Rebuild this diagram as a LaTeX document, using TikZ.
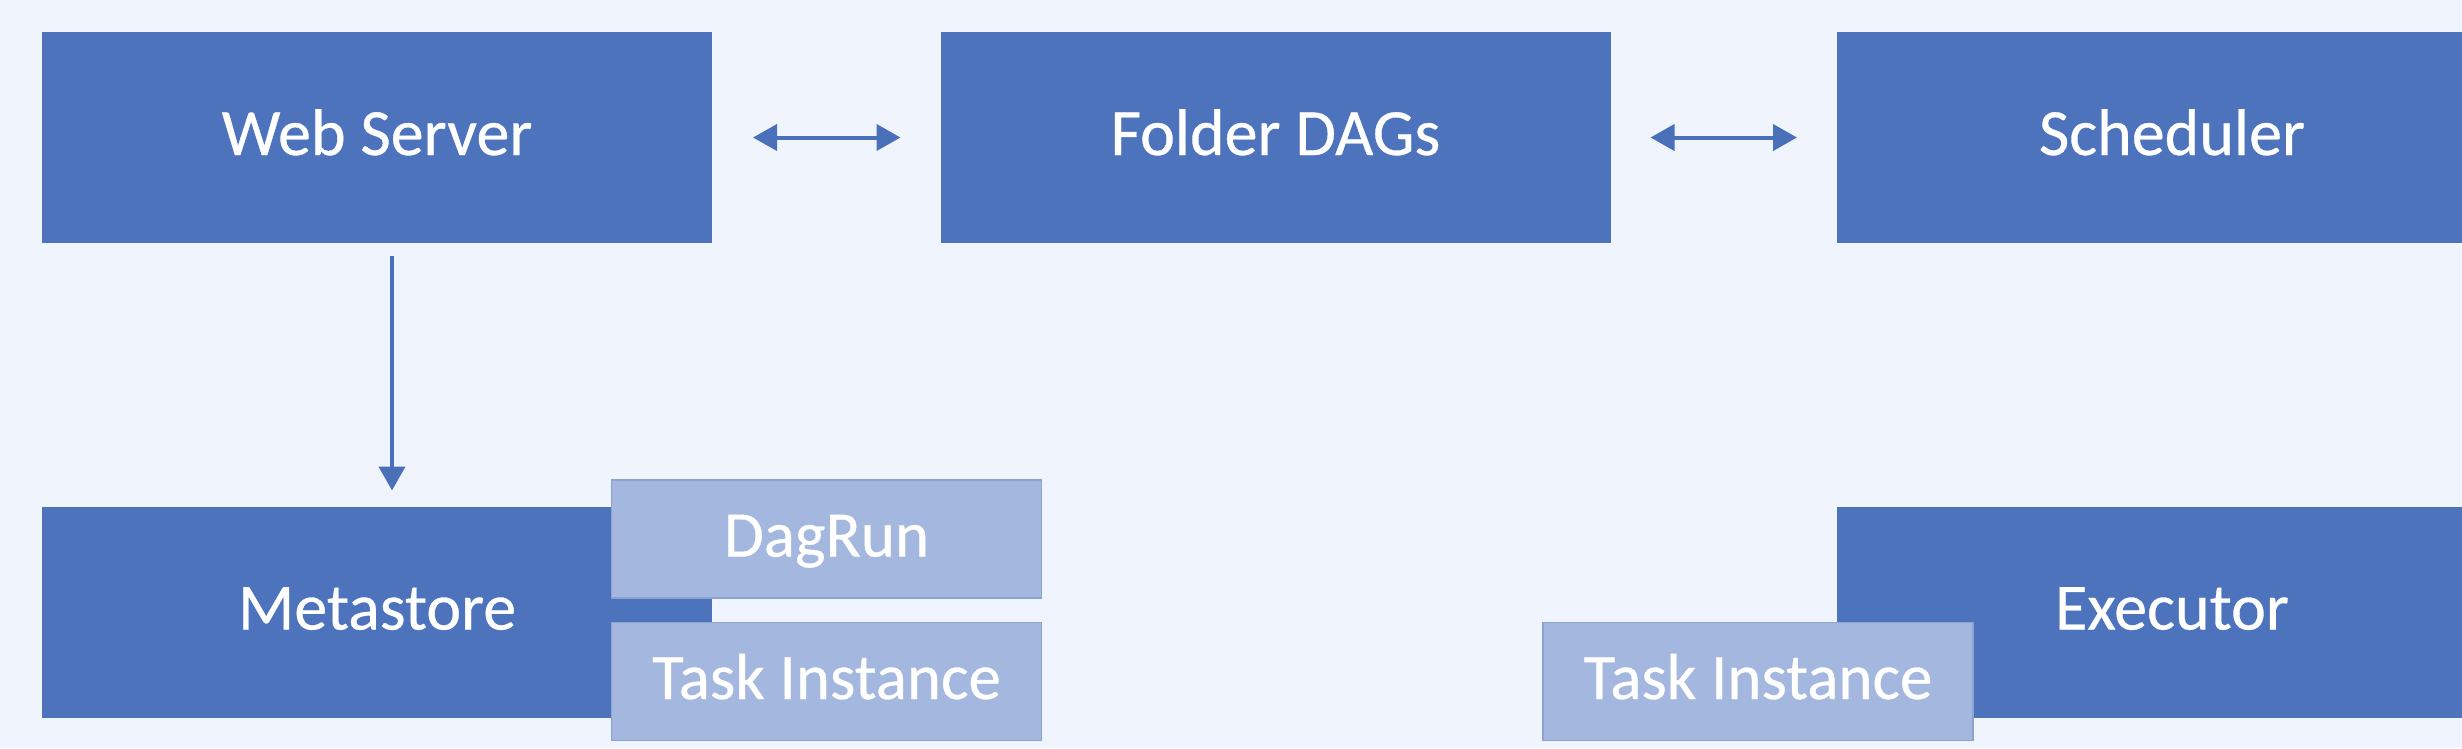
\documentclass[tikz,border=0pt]{standalone}
\usepackage{fontspec}
\setmainfont{Carlito}[FakeBold=0.5]
\usetikzlibrary{arrows.meta}
\definecolor{bgc}{RGB}{240,245,253}
\definecolor{darkbox}{RGB}{77,115,189}
\definecolor{lightbox}{RGB}{164,183,222}
\definecolor{lightedge}{RGB}{140,162,210}
\definecolor{arrowc}{RGB}{74,112,185}
\begin{document}
\begin{tikzpicture}[x=1pt,y=-1pt,
  darknode/.style={rectangle, fill=darkbox, text=white, inner sep=0pt, outer sep=0pt,
    minimum width=670pt, minimum height=211pt, text height=50pt, text depth=15pt,
    font=\fontsize{66}{70}\selectfont},
  lightnode/.style={rectangle, fill=lightbox, draw=lightedge, line width=1.5pt, text=white,
    inner sep=0pt, outer sep=0pt, minimum width=430pt, minimum height=118pt,
    text height=50pt, text depth=15pt, font=\fontsize{65}{70}\selectfont},
  conn/.style={line width=4pt, draw=arrowc, arrows={-Triangle[length=24pt,width=26pt]}},
  bconn/.style={line width=4pt, draw=arrowc, arrows={Triangle[length=24pt,width=26pt]-Triangle[length=24pt,width=26pt]}}
]
\useasboundingbox (0,0) rectangle (2462,748);
\clip (0,0) rectangle (2462,748);
\fill[bgc] (0,0) rectangle (2462,748);

\node[darknode] (web) at (377,137.5) {Web Server};
\node[darknode] (folder) at (1275.5,137.5) {Folder DAGs};
\node[darknode] (sched) at (2172,137.5) {Scheduler};
\node[darknode] (meta) at (377,612) {Metastore};
\node[darknode] (exec) at (2172,612) {Executor};

\node[lightnode] (dagrun) at (826.5,539) {DagRun};
\node[lightnode] (ti1) at (826.5,681.5) {Task Instance};
\node[lightnode] (ti2) at (1758,681.5) {Task Instance};

\draw[bconn, shorten <=41pt, shorten >=40pt] (web.east) -- (folder.west);
\draw[bconn, shorten <=40pt, shorten >=40pt] (folder.east) -- (sched.west);
\draw[conn, shorten <=13pt, shorten >=16pt] ([xshift=15pt]web.south) -- ([xshift=15pt]meta.north);
\end{tikzpicture}
\end{document}
